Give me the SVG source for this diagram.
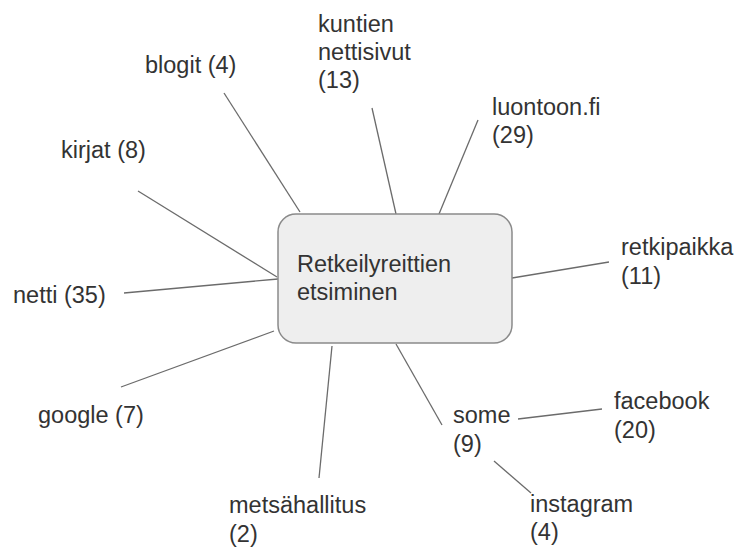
<svg xmlns="http://www.w3.org/2000/svg" width="737" height="550" viewBox="0 0 737 550">
<style>
text{font-family:"Liberation Sans",Arial,sans-serif;font-size:23.5px;fill:#333}
.c line{stroke:#6b6b6b;stroke-width:1.3}
.box{fill:#eeeeee;stroke:#8a8a8a;stroke-width:1.5}
</style>
<rect width="737" height="550" fill="#fff"/>
<g class="c" id="connectors">
<line x1="224" y1="93" x2="300" y2="212"/>
<line x1="138" y1="191" x2="277" y2="277"/>
<line x1="124" y1="293" x2="278" y2="279"/>
<line x1="121" y1="387" x2="274" y2="331"/>
<line x1="319" y1="478" x2="332" y2="346"/>
<line x1="372" y1="108" x2="396" y2="214"/>
<line x1="478" y1="120" x2="439" y2="214"/>
<line x1="512" y1="278" x2="609" y2="262"/>
<line x1="396" y1="344" x2="442" y2="425"/>
<line x1="518" y1="419" x2="602" y2="409"/>
<line x1="494" y1="461" x2="531" y2="493"/>
</g>
<g id="center">
<rect class="box" x="278" y="214" width="234" height="129" rx="18"/>
<text x="297" y="272">Retkeilyreittien</text>
<text x="297" y="300">etsiminen</text>
</g>
<g id="blogit"><text x="145" y="73">blogit (4)</text></g>
<g id="kirjat"><text x="61" y="158">kirjat (8)</text></g>
<g id="netti"><text x="13" y="303">netti (35)</text></g>
<g id="google"><text x="38" y="423">google (7)</text></g>
<g id="metsahallitus"><text x="229" y="513">metsähallitus</text><text x="229" y="542">(2)</text></g>
<g id="kuntien"><text x="318" y="32">kuntien</text><text x="318" y="60">nettisivut</text><text x="318" y="88">(13)</text></g>
<g id="luontoon"><text x="492" y="115">luontoon.fi</text><text x="492" y="143">(29)</text></g>
<g id="retkipaikka"><text x="621" y="255">retkipaikka</text><text x="621" y="284">(11)</text></g>
<g id="some"><text x="453" y="423">some</text><text x="453" y="452">(9)</text></g>
<g id="facebook"><text x="614" y="409">facebook</text><text x="614" y="438">(20)</text></g>
<g id="instagram"><text x="530" y="512">instagram</text><text x="530" y="540">(4)</text></g>
</svg>
